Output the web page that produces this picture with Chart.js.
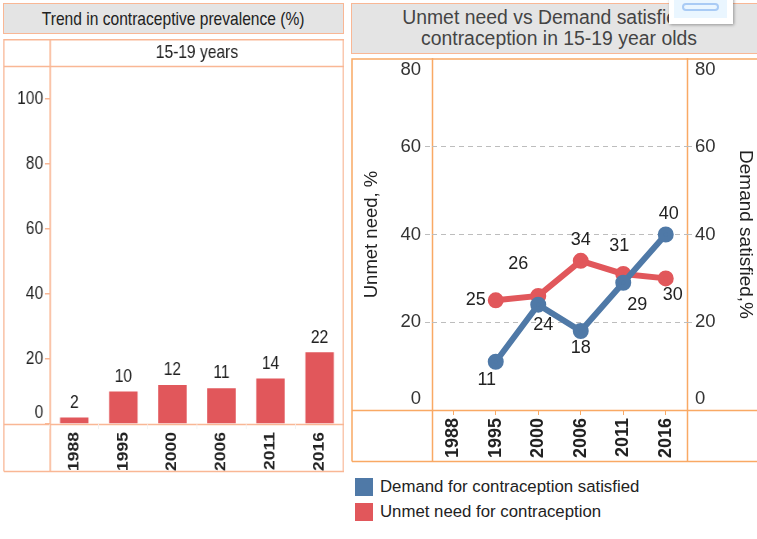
<!DOCTYPE html>
<html><head><meta charset="utf-8">
<script src="https://cdn.jsdelivr.net/npm/chart.js@4"></script>
<style>
html,body{margin:0;padding:0;background:#fff;overflow:hidden;width:757px;height:539px}
.a{position:absolute;box-sizing:border-box}
.title{background:#e4e4e4;text-align:center}
canvas{position:absolute}
.sw{width:18px;height:18px}
.leg{font:16.8px/20px "Liberation Sans",Arial,sans-serif;color:#222;white-space:nowrap}
</style></head><body>
<div class="a title" style="left:3px;top:3px;width:341px;height:31px;border:1.5px solid #f9b795;"><span style="display:inline-block;font:19px/29px 'Liberation Sans',Arial,sans-serif;color:#222;transform:scaleX(.82);white-space:nowrap">Trend in contraceptive prevalence (%)</span></div>
<div class="a title" style="left:351px;top:3px;width:416px;height:51px;border:1.5px solid #f9b795;font:19.4px/21px 'Liberation Sans',Arial,sans-serif;color:#444;padding-top:3px">Unmet need vs Demand satisfied for<br>contraception in 15-19 year olds</div>
<div class="a" style="left:669px;top:-6px;width:64px;height:30px;background:#fff;box-shadow:1px 1px 3px rgba(0,0,0,.35)"><div class="a" style="left:5px;top:0;width:53px;height:24px;background:#eaf6ff"></div><div class="a" style="left:13px;top:9px;width:37px;height:8px;border:2px solid #a9cbf5;border-radius:5px"></div></div>
<canvas id="left" width="416" height="434" style="left:3px;top:39px;transform-origin:0 0;transform:scaleX(.82)"></canvas>
<canvas id="right" width="406" height="405" style="left:351px;top:58px"></canvas>
<div class="a sw" style="left:355px;top:478px;background:#4f79a7"></div>
<div class="a leg" style="left:380px;top:477px">Demand for contraception satisfied</div>
<div class="a sw" style="left:355px;top:503px;background:#e1575b"></div>
<div class="a leg" style="left:380px;top:502px">Unmet need for contraception</div>
<script>
const years = ['1988','1995','2000','2006','2011','2016'];
const prevalence = [2,10,12,11,14,22];
const demandSatisfied = [null,11,24,18,29,40];
const unmetNeed = [null,25,26,34,31,30];
const leftTicks = [0,20,40,60,80,100];
const rightTicks = [0,20,40,60,80];
const ORANGE='#f9a964', PEACH='#f9b795', RED='#e1575b', BLUE='#4f79a7', DASH='#bdbdbd';
const SANS="'Liberation Sans',Arial,sans-serif";

const labelOffsets = {
  'Demand for contraception satisfied':[null,[-9,18],[5,20],[0,17],[14,22],[3,-20]],
  'Unmet need for contraception':[null,[-20,0],[-20,-32],[0,-21],[-4,-28],[7,17]]
};
const valueLabels = {id:'valueLabels',afterDatasetsDraw(c,a,o){
  const x=c.ctx;x.save();x.textAlign='center';x.textBaseline='middle';x.fillStyle='#222';x.font=o.font;
  c.data.datasets.forEach((d,i)=>{c.getDatasetMeta(i).data.forEach((e,j)=>{
    if(d.data[j]==null)return;
    const off=o.offsets?(o.offsets[d.label]||[])[j]||[0,0]:[0,o.dy];
    x.fillText(String(d.data[j]),e.x+off[0],e.y+off[1]);
  });});x.restore();
}};
const frame={id:'frame',beforeDraw(c,a,o){
  const x=c.ctx,t=c.chartArea,W=c.width,H=c.height;x.save();x.strokeStyle=o.color;x.lineWidth=1.5;
  x.beginPath();
  x.moveTo(1,H-1.5);x.lineTo(1,o.topY);x.lineTo(W+5,o.topY);
  if(o.closed){x.moveTo(W-1,.5);x.lineTo(W-1,H-1.5);}
  x.moveTo(1,H-1.5);x.lineTo(W+5,H-1.5);
  x.moveTo(1,Math.round(t.bottom)+.5);x.lineTo(W+5,Math.round(t.bottom)+.5);
  if(o.strip){x.moveTo(1,Math.round(t.top)+.5);x.lineTo(W,Math.round(t.top)+.5);}
  x.stroke();
  x.strokeStyle=o.vcolor;x.lineWidth=o.vwidth;x.beginPath();
  x.moveTo(Math.round(t.left)+.5,0);x.lineTo(Math.round(t.left)+.5,H-1);
  if(o.right){x.moveTo(Math.round(t.right)+.5,0);x.lineTo(Math.round(t.right)+.5,H-1);}
  x.stroke();x.restore();
}};
// the plot runs up to the top edge of the panel, whatever room the tick labels asked for
const plotTop={id:'plotTop',afterLayout(c,a,o){
  const t=o.top;c.chartArea.top=t;c.chartArea.height=c.chartArea.bottom-t;
  ['y','y2'].forEach(k=>{const s=c.scales[k];s.top=t;s.height=s.bottom-t;s.configure();});
}};
const shift=(v,lo,hi)=>v===lo?[String(v),'']:v===hi?['',String(v)]:String(v);
const inner=(ctx,col)=>(ctx.tick&&(ctx.tick.value===0||ctx.tick.value===80))?'rgba(0,0,0,0)':col;

new Chart(document.getElementById('left'),{
  type:'bar',
  data:{labels:years,datasets:[{label:'Contraceptive prevalence',data:prevalence,backgroundColor:RED,borderWidth:0,categoryPercentage:.58,barPercentage:1}]},
  plugins:[frame,valueLabels],
  options:{responsive:false,animation:false,layout:{padding:0},
    plugins:{legend:{display:false},tooltip:{enabled:false},
      title:{display:true,fullSize:false,text:'15-19 years',color:'#222',font:{family:SANS,size:19,weight:'normal'},padding:{top:2,bottom:2}},
      frame:{color:PEACH,vcolor:PEACH,closed:true,strip:true,vwidth:2,topY:.7},
      valueLabels:{font:'19px '+SANS,dy:-15}},
    scales:{
      x:{grid:{drawOnChartArea:false,color:'#f0f0f0',tickLength:5},border:{display:false},
        afterFit(s){s.height=49;},
        ticks:{minRotation:90,maxRotation:90,color:'#222',padding:3,font:{family:SANS,size:17.5,weight:'bold'}}},
      y:{min:0,max:110,afterFit(s){s.width=57;},
        afterBuildTicks(s){s.ticks=leftTicks.map(v=>({value:v}));},
        grid:{drawOnChartArea:false,color:PEACH,tickLength:6,lineWidth:1.5},border:{display:false},
        ticks:{color:'#222',padding:2,font:{family:SANS,size:19},callback:v=>v===0?['0','']:String(v)}}
    }}
});

new Chart(document.getElementById('right'),{
  type:'line',
  data:{labels:years,datasets:[
    {label:'Demand for contraception satisfied',data:demandSatisfied,borderColor:BLUE,backgroundColor:BLUE,borderWidth:6,pointRadius:5,yAxisID:'y2'},
    {label:'Unmet need for contraception',data:unmetNeed,borderColor:RED,backgroundColor:RED,borderWidth:6,pointRadius:5,yAxisID:'y'}
  ]},
  plugins:[plotTop,frame,valueLabels],
  options:{responsive:false,animation:false,layout:{padding:{top:1}},
    plugins:{legend:{display:false},tooltip:{enabled:false},
      plotTop:{top:1},
      frame:{color:ORANGE,vcolor:ORANGE,closed:false,strip:false,right:true,vwidth:1.5,topY:1},
      valueLabels:{font:'18px '+SANS,offsets:labelOffsets}},
    scales:{
      x:{offset:true,grid:{drawOnChartArea:false,color:ORANGE,tickLength:5},border:{display:false},
        afterFit(s){s.height=53;},
        ticks:{minRotation:90,maxRotation:90,color:'#222',padding:3,font:{family:SANS,size:18,weight:'bold'}}},
      y:{min:0,max:80,afterFit(s){s.width=81;},
        afterBuildTicks(s){s.ticks=rightTicks.map(v=>({value:v}));},
        title:{display:true,text:'Unmet need, %',color:'#222',font:{family:SANS,size:18.5},padding:{top:10,bottom:0}},
        grid:{color:c=>inner(c,DASH),tickColor:c=>inner(c,DASH),tickLength:7,tickBorderDash:[5,4]},border:{display:false,dash:[5,4]},
        ticks:{color:'#333',padding:4,font:{family:SANS,size:18.5},callback:v=>shift(v,0,80)}},
      y2:{position:'right',min:0,max:80,afterFit(s){s.width=70;},
        afterBuildTicks(s){s.ticks=rightTicks.map(v=>({value:v}));},
        title:{display:true,text:'Demand satisfied,%',color:'#222',font:{family:SANS,size:19},padding:0},
        grid:{drawOnChartArea:false,color:c=>inner(c,DASH),tickLength:7,tickBorderDash:[5,4]},border:{display:false},
        ticks:{color:'#333',padding:1,font:{family:SANS,size:18.5},callback:v=>shift(v,0,80)}}
    }}
});
</script>
</body></html>
